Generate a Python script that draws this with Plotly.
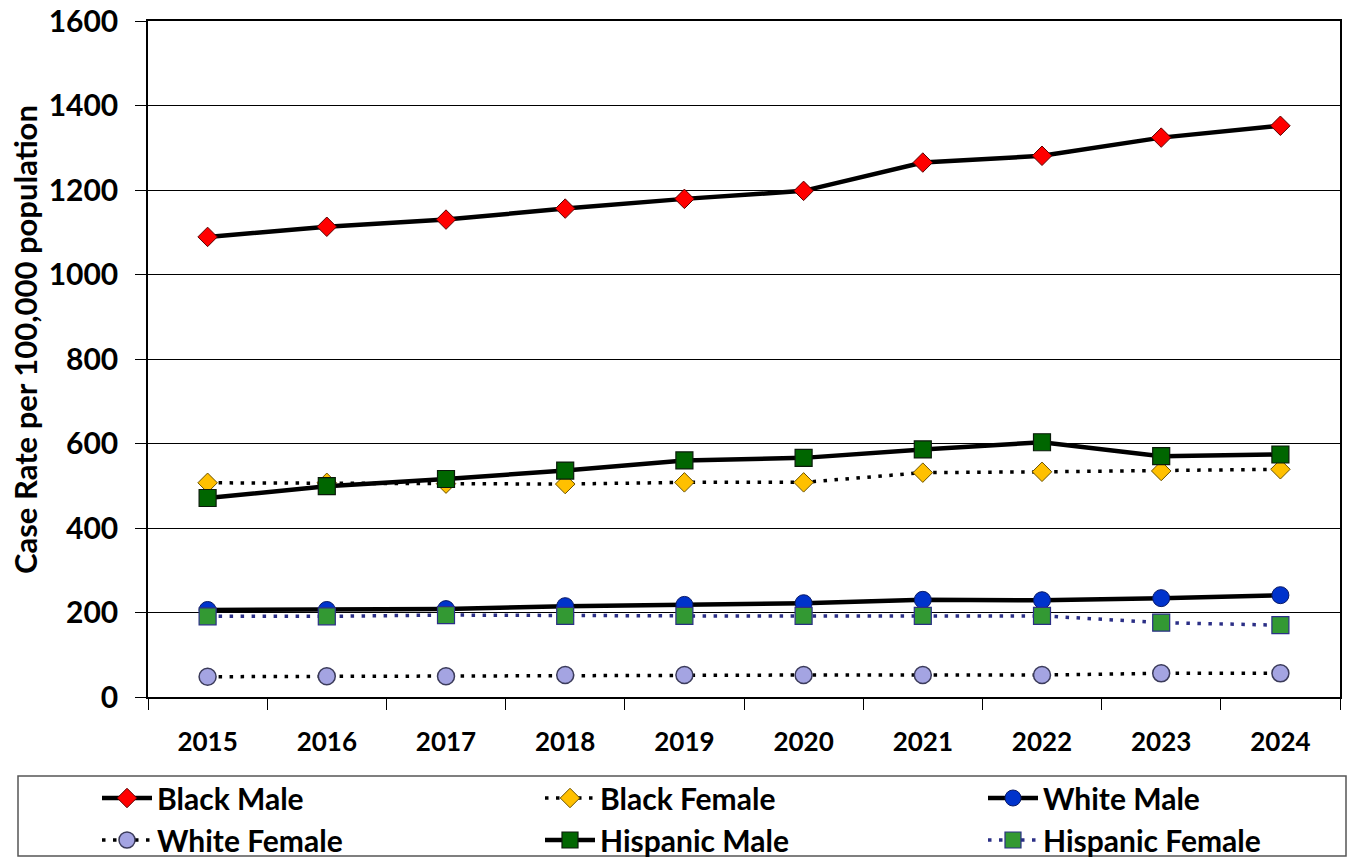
import plotly.graph_objects as go

# Case rates per 100,000 population by race/ethnicity and sex
years = ["2015", "2016", "2017", "2018", "2019", "2020", "2021", "2022", "2023", "2024"]
black_male = [1089, 1113, 1130, 1156, 1179, 1198, 1265, 1281, 1324, 1352]
black_female = [507, 507, 505, 504, 508, 508, 531, 533, 535, 539]
white_male = [206, 206, 208, 215, 218, 222, 230, 229, 234, 241]
white_female = [48, 49, 49, 52, 52, 52, 52, 52, 56, 56]
hispanic_male = [471, 499, 516, 536, 560, 566, 586, 603, 570, 574]
hispanic_female = [191, 191, 194, 192, 192, 192, 192, 192, 176, 170]

y_ticks = [0, 200, 400, 600, 800, 1000, 1200, 1400, 1600]

FONT = "Lato"
DOT = "3.5px,7.5px"

series = [
    ("Black Male", black_male, dict(color="black", width=4.5), dict(symbol="diamond", size=15, color="#FF0000", line=dict(color="#5a0000", width=1))),
    ("Black Female", black_female, dict(color="black", width=3.5, dash=DOT), dict(symbol="diamond", size=15, color="#FFC000", line=dict(color="#6b5200", width=1))),
    ("White Male", white_male, dict(color="black", width=4.5), dict(symbol="circle", size=17, color="#0033CC", line=dict(color="#0a1a66", width=1))),
    ("White Female", white_female, dict(color="black", width=3.5, dash=DOT), dict(symbol="circle", size=17, color="#A4A4E2", line=dict(color="#3b3b5a", width=1.5))),
    ("Hispanic Male", hispanic_male, dict(color="black", width=4.5), dict(symbol="square", size=17, color="#006600", line=dict(color="#0a1a0a", width=1.2))),
    ("Hispanic Female", hispanic_female, dict(color="#2B2F86", width=3.5, dash=DOT), dict(symbol="square", size=17, color="#339933", line=dict(color="#2B2F86", width=1.2))),
]

fig = go.Figure()
for name, vals, line, marker in series:
    fig.add_trace(go.Scatter(x=years, y=vals, name=name, mode="lines+markers",
                             line=line, marker=marker))

W, H = 1352, 858
L, R, T, B = 148, 12, 21, 161
pw, ph = W - L - R, H - T - B


def px_x(x):
    return (x - L) / pw


def px_y(y):
    return (H - B - y) / ph


ITEM_W = 50
TEXT_GAP = ITEM_W + 10

fig.update_layout(
    width=W, height=H,
    margin=dict(l=L, r=R, t=T, b=B, autoexpand=False),
    paper_bgcolor="white", plot_bgcolor="white",
    font=dict(family=FONT, color="black"),
    showlegend=True,
    legend=dict(
        orientation="h", x=px_x(157 - TEXT_GAP), y=px_y(772), xanchor="left", yanchor="top",
        entrywidth=443 - TEXT_GAP - 5, entrywidthmode="pixels", bgcolor="rgba(0,0,0,0)",
        font=dict(family=FONT, size=30, color="black", weight="bold"),
        itemwidth=ITEM_W, traceorder="normal",
    ),
    xaxis=dict(
        type="category", range=[-0.5, len(years) - 0.5], tickson="boundaries",
        ticks="outside", ticklen=11,
        tickcolor="black", tickwidth=1, showline=True, linecolor="black", linewidth=1.5,
        mirror=True, showgrid=False, ticklabelstandoff=21,
        tickfont=dict(family=FONT, size=26, color="black", weight="bold"),
    ),
    yaxis=dict(
        range=[0, 1600], tickvals=y_ticks, ticks="outside", ticklen=11,
        tickcolor="black", tickwidth=1, showline=True, linecolor="black", linewidth=1.5,
        mirror=True, showgrid=True, gridcolor="black", gridwidth=1, zeroline=False,
        ticklabelstandoff=11,
        tickfont=dict(family=FONT, size=30, color="black", weight="bold"),
    ),
    shapes=[dict(type="rect", xref="paper", yref="paper",
                 x0=px_x(18), x1=px_x(1346), y0=px_y(776), y1=px_y(856),
                 line=dict(color="#555555", width=1.5), fillcolor="rgba(0,0,0,0)", layer="below")],
    annotations=[dict(text="Case Rate per 100,000 population", textangle=-90,
                      xref="paper", yref="paper", x=px_x(25), y=px_y(340),
                      xanchor="center", yanchor="middle", showarrow=False,
                      font=dict(family=FONT, size=31, color="black", weight="bold"))],
)

fig.write_html("out.html")
